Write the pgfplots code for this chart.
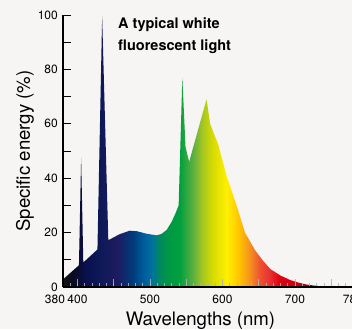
\documentclass[border=0pt]{standalone}
\usepackage{fontspec}
\setmainfont{TeX Gyre Heros}
\usepackage{pgfplots}
\pgfplotsset{compat=1.18}
\definecolor{bg}{HTML}{F6F5F3}
\definecolor{s380}{HTML}{141414}
\definecolor{s394}{HTML}{0A0A22}
\definecolor{s413}{HTML}{0A1050}
\definecolor{s435}{HTML}{101A58}
\definecolor{s454}{HTML}{1E1A60}
\definecolor{s476}{HTML}{003A7A}
\definecolor{s490}{HTML}{005A9A}
\definecolor{s502}{HTML}{0070A0}
\definecolor{s514}{HTML}{008A5A}
\definecolor{s528}{HTML}{009A40}
\definecolor{s541}{HTML}{00A040}
\definecolor{s560}{HTML}{60B040}
\definecolor{s573}{HTML}{A8C820}
\definecolor{s587}{HTML}{D8DC00}
\definecolor{s606}{HTML}{FFF000}
\definecolor{s624}{HTML}{FFC000}
\definecolor{s638}{HTML}{F59020}
\definecolor{s652}{HTML}{EE5030}
\definecolor{s665}{HTML}{E83030}
\definecolor{s679}{HTML}{E00010}
\definecolor{s697}{HTML}{D00010}
\definecolor{s721}{HTML}{A00010}
\definecolor{s744}{HTML}{800000}
\definecolor{s780}{HTML}{600000}
\pgfdeclarehorizontalshading{spectrum}{100bp}{color(0bp)=(s380); color(25bp)=(s380); color(26.75bp)=(s394); color(29.125bp)=(s413); color(31.875bp)=(s435); color(34.25bp)=(s454); color(37bp)=(s476); color(38.75bp)=(s490); color(40.25bp)=(s502); color(41.75bp)=(s514); color(43.5bp)=(s528); color(45.125bp)=(s541); color(47.5bp)=(s560); color(49.125bp)=(s573); color(50.875bp)=(s587); color(53.25bp)=(s606); color(55.5bp)=(s624); color(57.25bp)=(s638); color(59bp)=(s652); color(60.625bp)=(s665); color(62.375bp)=(s679); color(64.625bp)=(s697); color(67.625bp)=(s721); color(70.5bp)=(s744); color(75bp)=(s780); color(100bp)=(s780)}
\begin{document}
\begin{tikzpicture}
\fill[bg] (-63pt,-42pt) rectangle (289pt,287pt);
\begin{axis}[
  at={(0pt,0pt)}, anchor=south west,
  scale only axis, width=290pt, height=272pt,
  xmin=380, xmax=780, ymin=0, ymax=100,
  axis lines=left, axis line style={-},
  x axis line style={line width=1.4pt},
  y axis line style={line width=1.1pt},
  axis on top,
  tick align=inside,
  ytick={0,10,...,100},
  yticklabels={0,,20,,40,,60,,80,,100},
  ytick style={black, line width=0.9pt},
  xtick={400,450,...,750},
  xticklabels={400,,500,,600,,700,},
  minor xtick={390,400,...,770},
  xtick style={draw=black!30, opacity=0.85, line width=0.8pt},
  major tick length=8pt, minor tick length=4pt,
  extra x ticks={380,780},
  extra x tick labels={\makebox[0pt][r]{380\kern-2pt},780},
  extra x tick style={major tick length=0pt},
  /pgf/number format/assume math mode=true,
  tick label style={font=\fontsize{12}{14}\selectfont},
  xticklabel style={anchor=base, yshift=-16.3pt},
  yticklabel style={anchor=east, inner sep=0pt, xshift=-5pt},
  every axis x label/.style={at={([xshift=137.5pt,yshift=-38pt]axis description cs:0,0)}, anchor=base},
  every axis y label/.style={at={([xshift=-38pt]axis description cs:0,0.5)}, anchor=center, rotate=90},
  label style={font=\fontsize{18.6}{22}\selectfont},
  xlabel={Wavelengths (nm)},
  ylabel={Specific energy (\%)},
]
\addplot[draw=none, shade, shading=spectrum] coordinates {
(380,2.8) (402,8.0) (405,47.5) (408,9.0) (427.5,13.8) (434,99.5) (442.5,17.2)
(458,19.4) (472,20.7) (482,20.5) (495,19.6) (509,19.0) (516,19.5) (523,21.0)
(530,24.0) (535,27.0) (539.5,30.0) (544.6,77.0) (549,51.5) (554,46.0) (566,57.5)
(578,69.0) (583,60.0) (588,56.5) (594,52.5) (606,40.5) (620,29.5) (631,20.0)
(645,13.5) (656,9.6) (666,6.6) (680,4.2) (693,2.6) (705,1.6) (716,0.9)
(730,0.4) (745,0.15) (760,0.05) (780,0)
} \closedcycle;
\end{axis}
\node[anchor=base west, inner sep=0pt, font=\fontsize{14.5}{17}\selectfont\bfseries] at (55pt,258.7pt) {A typical white};
\node[anchor=base west, inner sep=0pt, font=\fontsize{14.5}{17}\selectfont\bfseries] at (55pt,236.3pt) {fluorescent light};
\pgfresetboundingbox
\path[use as bounding box] (-63pt,-42pt) rectangle (289pt,287pt);
\end{tikzpicture}
\end{document}
